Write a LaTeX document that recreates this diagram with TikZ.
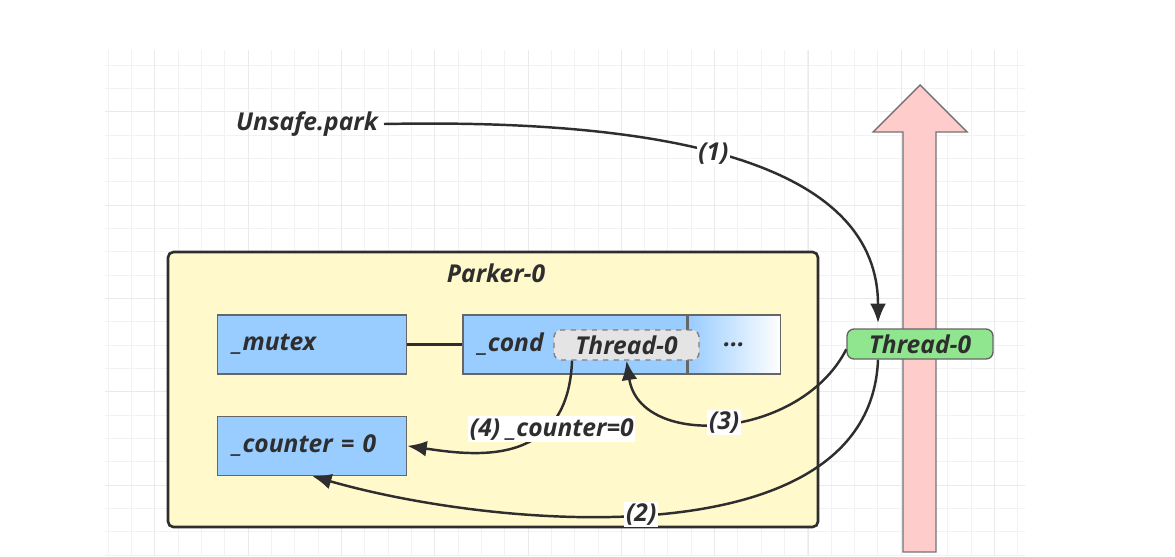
\documentclass[tikz,border=0pt]{standalone}
\usepackage{fontspec}
\setsansfont{Open Sans}
\usepackage{tikz}
\usetikzlibrary{arrows.meta}
\usetikzlibrary{positioning}
\usepackage{xcolor}
\definecolor{myblack}{HTML}{2E2E2E}
\definecolor{fieldblue}{HTML}{99CCFF}
\definecolor{parkeryellow}{HTML}{FFF9CC}
\definecolor{threadgreen}{HTML}{8FE68F}
\definecolor{threadgray}{HTML}{E4E4E4}
\definecolor{uppink}{HTML}{FFCCCC}
\definecolor{gridminor}{HTML}{F2F2F2}
\definecolor{gridmajor}{HTML}{EAEAEA}
\tikzset{every node/.style={text=myblack, font={\sffamily\bfseries\itshape\fontsize{14}{16}\selectfont}}}
\tikzstyle{field} = [draw=black!60, fill=fieldblue, line width=0.8pt, minimum height=1.18cm, inner xsep=0.3cm, align=left, anchor=west]
\tikzstyle{parker} = [draw=myblack, fill=parkeryellow, line width=1.5pt, rounded corners=3pt, minimum width=13cm, minimum height=5.5cm]
\tikzstyle{thread} = [rounded corners=4pt, minimum width=2.9cm, minimum height=0.6cm, inner sep=0pt]
\tikzstyle{ln} = [draw=myblack, line width=1.4pt, -{Latex[length=11pt,width=9pt]}]
\tikzstyle{lbl} = [fill=white, inner sep=1pt]

\begin{document}
\begin{tikzpicture}[x=0.02cm, y=-0.02cm]
  \useasboundingbox (0,0) rectangle (1175,556);
  \foreach \i in {0,...,39} \draw[gridminor, line width=0.5pt] (108+23.33*\i,50) -- (108+23.33*\i,556);
  \foreach \j in {0,...,21} \draw[gridminor, line width=0.5pt] (105,65+23.33*\j) -- (1025,65+23.33*\j);
  \foreach \i in {0,...,9} \draw[gridmajor, line width=0.5pt] (154.7+93.33*\i,50) -- (154.7+93.33*\i,556);
  \foreach \j in {0,...,4} \draw[gridmajor, line width=0.5pt] (105,111.7+93.33*\j) -- (1025,111.7+93.33*\j);

  \draw[fill=uppink, draw=black!55, line width=0.8pt] (903,552) -- (903,132) -- (873,132) -- (920,85) -- (967,132) -- (936,132) -- (936,552) -- cycle;

  \node[parker] (parker) at (493,389.5) {};
  \node (parkername) at (496,273) {Parker-0};
  \node (unsafe) at (307,124) {Unsafe.park};

  \node[field, text width=3.18cm] (mutex) at (217,344.5) {\_mutex};
  \node[field, text width=3.18cm, below=0.82cm of mutex.south west, anchor=north west] (counter) {\_counter = 0};
  \node[field, text width=3.88cm, right=1.1cm of mutex] (cond) {\_cond};
  \node[draw=black!60, line width=0.8pt, left color=fieldblue, right color=white, minimum width=1.84cm, minimum height=1.18cm, right=0pt of cond] (dots) {...};
  \draw[myblack, line width=1.4pt] (mutex) -- (cond);

  \node[thread, draw=black!50, dashed, line width=0.8pt, fill=threadgray] (tcond) at (626.5,345) {Thread-0};
  \node[thread, draw=black!60, line width=0.8pt, fill=threadgreen, minimum width=2.92cm] (tgreen) at (920,344) {Thread-0};

  \draw[ln, shorten >=3pt] (unsafe.east) .. controls (690,118) and (878,170) .. ([xshift=-0.84cm]tgreen.north) node[lbl, pos=0.44] {(1)};
  \draw[ln] ([xshift=-0.84cm]tgreen.south) .. controls (870,560) and (500,530) .. (counter.south) node[lbl, pos=0.53] {(2)};
  \draw[ln] ([yshift=-3pt]tgreen.west) .. controls (800,440) and (640,450) .. (tcond.south) node[lbl, pos=0.5] {(3)};
  \draw[ln] ([xshift=-1.09cm]tcond.south) .. controls (568,470) and (470,455) .. (counter.east) node[lbl, pos=0.3, xshift=3pt] {(4) \_counter=0};
\end{tikzpicture}
\end{document}
